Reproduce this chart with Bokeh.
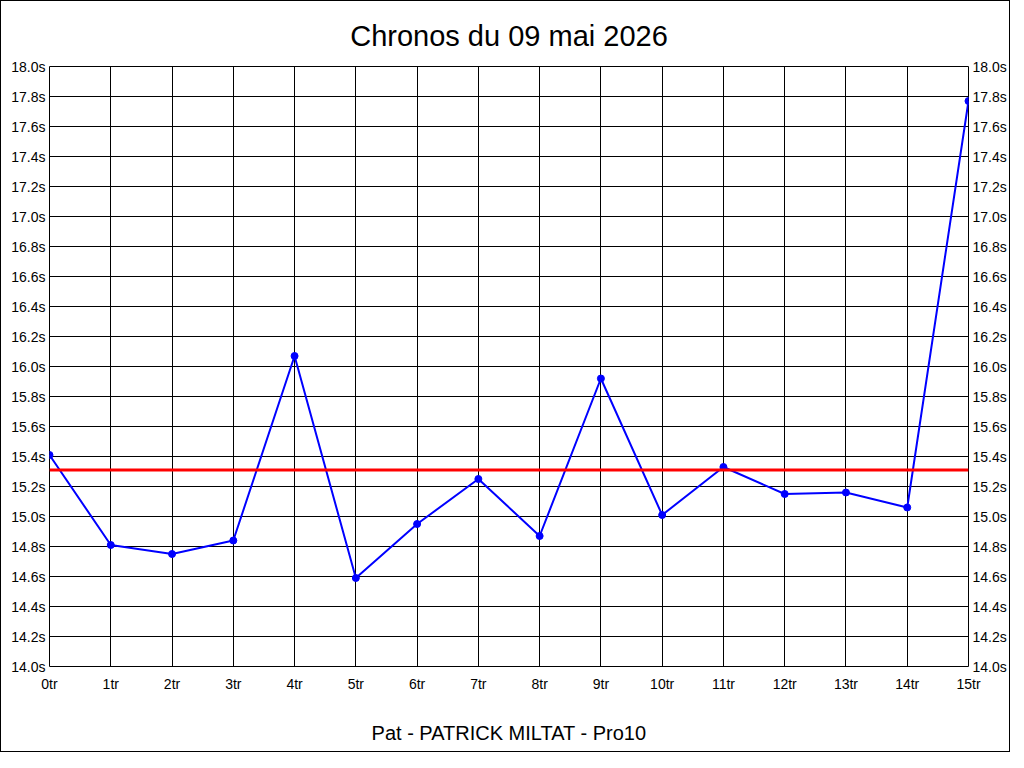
from bokeh.plotting import figure
from bokeh.models import Range1d, FixedTicker, PrintfTickFormatter, LinearAxis, Span
from bokeh.embed import file_html
from bokeh.resources import INLINE

# ---- data ----
laps = list(range(16))
times = [15.41, 14.81, 14.75, 14.84, 16.07, 14.59, 14.95, 15.25,
         14.87, 15.92, 15.01, 15.33, 15.15, 15.16, 15.06, 17.77]
average = 15.31
y_ticks = [14.0, 14.2, 14.4, 14.6, 14.8, 15.0, 15.2, 15.4, 15.6, 15.8,
           16.0, 16.2, 16.4, 16.6, 16.8, 17.0, 17.2, 17.4, 17.6, 17.8, 18.0]
title_text = "Chronos du 09 mai 2026"
bottom_text = "Pat - PATRICK MILTAT - Pro10"

FONT = "Liberation Sans"

p = figure(width=1008, height=752, output_backend="svg", toolbar_location=None,
           x_range=Range1d(0, 15), y_range=Range1d(14.0, 18.0),
           frame_width=919, frame_height=600,
           min_border_left=48, min_border_right=39, min_border_top=65, min_border_bottom=85,
           title=title_text)
p.styles = {"border": "1px solid black", "box-sizing": "border-box"}

p.title.align = "center"
p.title.text_font = FONT
p.title.text_font_size = "29px"
p.title.text_font_style = "normal"
p.title.text_color = "black"
p.title.standoff = 30

xt = FixedTicker(ticks=laps)
yt = FixedTicker(ticks=y_ticks)

p.xaxis.ticker = xt
p.xaxis.formatter = PrintfTickFormatter(format="%dtr")
p.yaxis.ticker = yt
p.yaxis.formatter = PrintfTickFormatter(format="%.1fs")

right = LinearAxis(ticker=yt, formatter=PrintfTickFormatter(format="%.1fs"))
p.add_layout(right, "right")

for ax in [p.xaxis[0], p.yaxis[0], right]:
    ax.major_tick_in = 0
    ax.major_tick_out = 0
    ax.minor_tick_in = 0
    ax.minor_tick_out = 0
    ax.axis_line_color = None
    ax.major_label_text_font = FONT
    ax.major_label_text_font_size = "14px"
    ax.major_label_text_color = "black"
    ax.major_label_standoff = 4

p.xaxis.major_label_standoff = 9
p.xaxis.axis_label = bottom_text
p.xaxis.axis_label_text_font = FONT
p.xaxis.axis_label_text_font_size = "20px"
p.xaxis.axis_label_text_font_style = "normal"
p.xaxis.axis_label_text_color = "black"
p.xaxis.axis_label_standoff = 27

p.xgrid.ticker = xt
p.ygrid.ticker = yt
for g in [p.xgrid[0], p.ygrid[0]]:
    g.grid_line_color = "black"
    g.grid_line_alpha = 1.0
    g.grid_line_width = 1

p.outline_line_color = "black"
p.outline_line_width = 1
p.background_fill_color = "white"
p.border_fill_color = "white"

p.line(laps, times, line_color="blue", line_width=2)
p.scatter(laps, times, size=7, fill_color="blue", line_color="blue")

p.add_layout(Span(location=average, dimension="width", line_color="red", line_width=3))

open("out.html", "w").write(file_html(p, INLINE))
